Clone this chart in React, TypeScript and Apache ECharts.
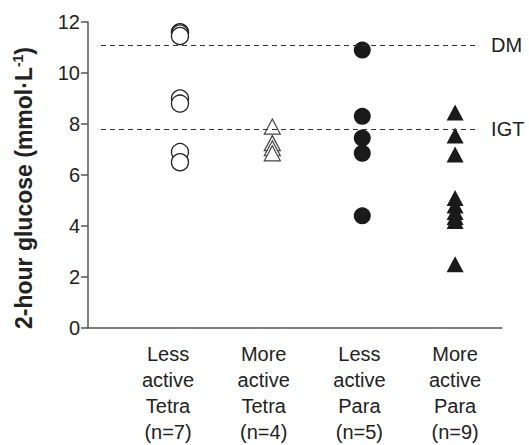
import React, { useEffect, useRef } from "react";
import * as echarts from "echarts";

const categories = ["Less\nactive\nTetra\n(n=7)", "More\nactive\nTetra\n(n=4)", "Less\nactive\nPara\n(n=5)", "More\nactive\nPara\n(n=9)"];
const categoryPos = [1, 2, 3, 4];
const groupX = [1.125, 2.09, 3.03, 4.0];
const lessActiveTetra = [11.6, 11.55, 11.45, 9.0, 8.8, 6.9, 6.5];
const moreActiveTetra = [7.9, 7.25, 7.05, 6.85];
const lessActivePara = [10.9, 8.3, 7.45, 6.85, 4.4];
const moreActivePara = [8.45, 7.55, 6.8, 5.1, 4.8, 4.55, 4.35, 4.2, 2.5];
const yTicks = [0, 2, 4, 6, 8, 10, 12];
const yTitle = "2-hour glucose (mmol·L";
const yTitleSup = "-1";
const thresholds = [
  { name: "DM", value: 11.1 },
  { name: "IGT", value: 7.8 },
];

const FONT = "Liberation Sans, Arial, Helvetica, sans-serif";

export default function App() {
  const ref = useRef<HTMLDivElement>(null);
  useEffect(() => {
    if (!ref.current) return;
    const chart = echarts.init(ref.current, undefined, { renderer: "svg" });
    const pts = (vals: number[], gi: number) => vals.map((v) => [groupX[gi], v]);
    chart.setOption({
      animation: false,
      textStyle: { fontFamily: FONT },
      grid: { left: 88, top: 22, right: 27, bottom: 109 },
      graphic: [
        {
          type: "text",
          x: 24,
          y: 188,
          rotation: Math.PI / 2,
          style: {
            text: `{t|${yTitle}}{s|${yTitleSup}}{t|)}`,
            align: "center",
            verticalAlign: "middle",
            rich: {
              t: { fontSize: 23, fontWeight: "bold", fill: "#222", fontFamily: FONT },
              s: { fontSize: 14, fontWeight: "bold", fill: "#222", fontFamily: FONT, verticalAlign: "top", padding: [0, 0, 12, 0] },
            },
          },
        },
      ],
      xAxis: {
        type: "value",
        min: 0.164,
        max: 4.49,
        splitLine: { show: false },
        axisLine: { show: true, lineStyle: { color: "#555", width: 1.5 } },
        axisTick: { show: false },
        axisLabel: {
          customValues: categoryPos,
          formatter: (v: number) => categories[Math.round(v) - 1] ?? "",
          color: "#222",
          fontSize: 20,
          lineHeight: 26,
          margin: 13,
          fontFamily: FONT,
        },
      },
      yAxis: {
        type: "value",
        min: yTicks[0],
        max: yTicks[yTicks.length - 1],
        interval: 2,
        splitLine: { show: false },
        axisLine: { show: true, lineStyle: { color: "#555", width: 1.5 } },
        axisTick: { show: true, inside: false, length: 7, lineStyle: { color: "#555", width: 1.5 } },
        axisLabel: { color: "#222", fontSize: 20, margin: 8, fontFamily: FONT },
      },
      series: [
        {
          type: "scatter",
          data: pts(lessActiveTetra, 0),
          symbol: "circle",
          symbolSize: 17,
          itemStyle: { color: "#fff", borderColor: "#222", borderWidth: 1.3, opacity: 1 },
          z: 3,
          markLine: {
            silent: true,
            symbol: "none",
            lineStyle: { color: "#333", width: 1, type: [5, 4] },
            label: { show: true, position: "end", distance: 14, color: "#222", fontSize: 20, fontFamily: FONT },
            data: thresholds.map((t) => [
              { coord: [0.3, t.value], name: t.name, label: { formatter: t.name } },
              { coord: [4.23, t.value] },
            ]),
          },
        },
        {
          type: "scatter",
          data: pts(moreActiveTetra, 1),
          symbol: "triangle",
          symbolSize: [16, 15],
          itemStyle: { color: "#fff", borderColor: "#444", borderWidth: 1.2, opacity: 1 },
          z: 3,
        },
        {
          type: "scatter",
          data: pts(lessActivePara, 2),
          symbol: "circle",
          symbolSize: 17,
          itemStyle: { color: "#1a1a1a", opacity: 1 },
          z: 3,
        },
        {
          type: "scatter",
          data: pts(moreActivePara, 3),
          symbol: "triangle",
          symbolSize: [17, 16],
          itemStyle: { color: "#1a1a1a", opacity: 1 },
          z: 3,
        },
      ],
    });
    return () => chart.dispose();
  }, []);
  return <div ref={ref} style={{ width: 529, height: 445, position: "absolute", left: 0, top: 0 }} />;
}
